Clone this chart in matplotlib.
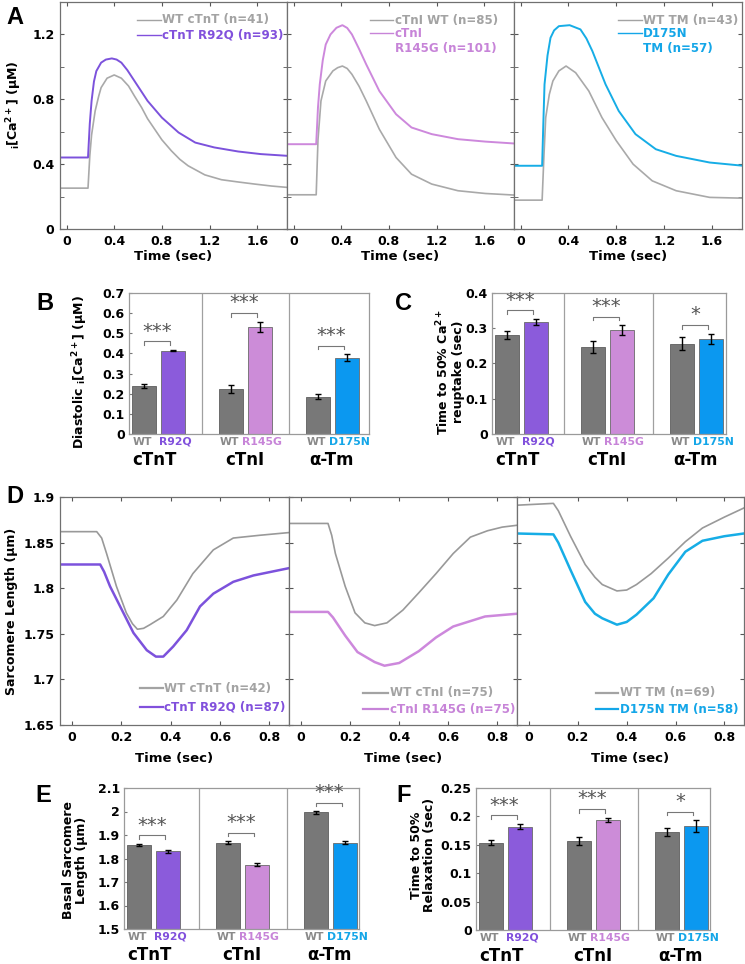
import matplotlib
matplotlib.use('Agg')
import matplotlib.pyplot as plt
from matplotlib.ticker import MultipleLocator, FormatStrFormatter

plt.rcParams['font.family'] = ['DejaVu Sans']
plt.rcParams['font.weight'] = 'bold'
plt.rcParams['axes.labelweight'] = 'bold'
plt.rcParams['mathtext.default'] = 'bf'

W, H = 745, 964

# ---------------- data ----------------
groups = ['cTnT', 'cTnI', 'α-Tm']
mut_names = ['R92Q', 'R145G', 'D175N']

# A: Ca2+ transients (time sec, [Ca2+] uM)
ca_tnt_wt_t = [-0.06, 0.18, 0.195, 0.21, 0.24, 0.27, 0.29, 0.34, 0.40, 0.46, 0.52, 0.57, 0.63, 0.68, 0.74, 0.80,
               0.88, 0.95, 1.02, 1.16, 1.30, 1.44, 1.58, 1.72, 1.86]
ca_tnt_wt = [0.252, 0.252, 0.45, 0.58, 0.728, 0.82, 0.872, 0.93, 0.95, 0.93, 0.882, 0.82, 0.749, 0.68, 0.615, 0.55,
             0.482, 0.43, 0.39, 0.334, 0.304, 0.29, 0.277, 0.265, 0.256]
ca_tnt_mut_t = [-0.06, 0.18, 0.195, 0.21, 0.23, 0.25, 0.29, 0.33, 0.38, 0.42, 0.46, 0.51, 0.57, 0.68, 0.80, 0.94,
                1.08, 1.24, 1.44, 1.63, 1.86]
ca_tnt_mut = [0.441, 0.441, 0.65, 0.79, 0.91, 0.974, 1.026, 1.045, 1.052, 1.045, 1.026, 0.98, 0.913, 0.79, 0.687,
              0.595, 0.533, 0.503, 0.478, 0.462, 0.451]

ca_tni_wt_t = [-0.06, 0.19, 0.205, 0.23, 0.27, 0.33, 0.37, 0.41, 0.45, 0.49, 0.55, 0.61, 0.72, 0.86, 0.99, 1.16,
               1.38, 1.61, 1.86]
ca_tni_wt = [0.211, 0.211, 0.55, 0.79, 0.913, 0.975, 0.995, 1.005, 0.99, 0.954, 0.88, 0.79, 0.615, 0.441, 0.338,
             0.277, 0.236, 0.219, 0.209]
ca_tni_mut_t = [-0.06, 0.19, 0.205, 0.22, 0.245, 0.27, 0.31, 0.36, 0.41, 0.45, 0.49, 0.55, 0.61, 0.72, 0.86, 0.99,
                1.16, 1.38, 1.61, 1.86]
ca_tni_mut = [0.523, 0.523, 0.75, 0.892, 1.04, 1.138, 1.2, 1.241, 1.257, 1.24, 1.2, 1.11, 1.015, 0.851, 0.708,
              0.626, 0.585, 0.554, 0.539, 0.527]

ca_tm_wt_t = [-0.06, 0.18, 0.195, 0.21, 0.24, 0.27, 0.32, 0.38, 0.46, 0.57, 0.68, 0.80, 0.94, 1.10, 1.30, 1.58,
              1.86]
ca_tm_wt = [0.178, 0.178, 0.45, 0.687, 0.83, 0.913, 0.975, 1.005, 0.964, 0.851, 0.687, 0.544, 0.40, 0.297, 0.236,
            0.195, 0.19]
ca_tm_mut_t = [-0.06, 0.18, 0.19, 0.20, 0.225, 0.25, 0.28, 0.32, 0.41, 0.50, 0.55, 0.60, 0.71, 0.82, 0.96, 1.13,
               1.30, 1.58, 1.86]
ca_tm_mut = [0.39, 0.39, 0.65, 0.892, 1.07, 1.179, 1.225, 1.251, 1.257, 1.231, 1.175, 1.097, 0.892, 0.728, 0.585,
             0.492, 0.451, 0.41, 0.39]

# D: sarcomere length (time sec, um)
sl_tnt_wt_t = [-0.05, 0.10, 0.12, 0.14, 0.18, 0.22, 0.245, 0.265, 0.29, 0.316, 0.37, 0.425, 0.49, 0.573, 0.654,
               0.76, 0.88]
sl_tnt_wt = [1.862, 1.862, 1.855, 1.838, 1.802, 1.773, 1.761, 1.755, 1.756, 1.760, 1.769, 1.787, 1.816, 1.842,
             1.855, 1.858, 1.861]
sl_tnt_mut_t = [-0.05, 0.114, 0.13, 0.154, 0.195, 0.249, 0.303, 0.34, 0.37, 0.41, 0.465, 0.519, 0.573, 0.654,
                0.736, 0.88]
sl_tnt_mut = [1.826, 1.826, 1.818, 1.802, 1.780, 1.751, 1.732, 1.725, 1.725, 1.736, 1.754, 1.780, 1.794, 1.807,
              1.814, 1.822]

sl_tni_wt_t = [-0.05, 0.11, 0.125, 0.14, 0.18, 0.22, 0.26, 0.30, 0.35, 0.415, 0.48, 0.55, 0.62, 0.69, 0.76, 0.82,
               0.88]
sl_tni_wt = [1.871, 1.871, 1.858, 1.838, 1.802, 1.773, 1.762, 1.759, 1.762, 1.776, 1.795, 1.816, 1.838, 1.856,
             1.863, 1.867, 1.869]
sl_tni_mut_t = [-0.05, 0.11, 0.13, 0.18, 0.23, 0.30, 0.34, 0.40, 0.48, 0.55, 0.62, 0.75, 0.88]
sl_tni_mut = [1.774, 1.774, 1.768, 1.748, 1.730, 1.719, 1.715, 1.718, 1.731, 1.746, 1.758, 1.769, 1.772]

sl_tm_wt_t = [-0.05, 0.10, 0.12, 0.17, 0.23, 0.27, 0.30, 0.36, 0.40, 0.44, 0.50, 0.57, 0.64, 0.71, 0.80, 0.88]
sl_tm_wt = [1.891, 1.893, 1.885, 1.857, 1.826, 1.812, 1.804, 1.797, 1.798, 1.804, 1.816, 1.833, 1.851, 1.866,
            1.878, 1.888]
sl_tm_mut_t = [-0.05, 0.10, 0.12, 0.17, 0.23, 0.27, 0.30, 0.36, 0.40, 0.44, 0.51, 0.57, 0.64, 0.71, 0.80, 0.88]
sl_tm_mut = [1.860, 1.859, 1.850, 1.820, 1.785, 1.772, 1.767, 1.760, 1.763, 1.771, 1.789, 1.815, 1.840, 1.852,
             1.857, 1.860]

# bar panels: WT / mutant means and SEM, per group (cTnT, cTnI, a-Tm)
diast_wt = [0.238, 0.224, 0.185]
diast_wt_err = [0.009, 0.020, 0.012]
diast_mut = [0.414, 0.533, 0.379]
diast_mut_err = [0.004, 0.025, 0.018]
diast_sig = ['***', '***', '***']

reup_wt = [0.281, 0.246, 0.256]
reup_wt_err = [0.011, 0.017, 0.018]
reup_mut = [0.318, 0.294, 0.270]
reup_mut_err = [0.009, 0.014, 0.015]
reup_sig = ['***', '***', '*']

basal_wt = [1.858, 1.867, 1.996]
basal_wt_err = [0.005, 0.006, 0.005]
basal_mut = [1.830, 1.773, 1.867]
basal_mut_err = [0.007, 0.006, 0.007]
basal_sig = ['***', '***', '***']

relax_wt = [0.154, 0.157, 0.173]
relax_wt_err = [0.004, 0.007, 0.007]
relax_mut = [0.182, 0.194, 0.183]
relax_mut_err = [0.005, 0.004, 0.010]
relax_sig = ['***', '***', '*']

# ---------------- styles ----------------
GRAY_LINE_A = '#a9a9a9'
GRAY_LINE_D = '#999999'
GRAY_TXT = '#a3a3a3'
line_cols = ['#7c52dc', '#cd88dc', '#16ade6']
bar_cols = ['#8b5bdb', '#cc8cd8', '#0b98f0']
txt_cols = ['#8150dc', '#c784d8', '#14a6e8']
WT_BAR = '#787878'

fig = plt.figure(figsize=(W / 100, H / 100), dpi=100)


def px_axes(l, t, r, b):
    return fig.add_axes([l / W, 1 - b / H, (r - l) / W, (b - t) / H])


def fig_text(x, y, s, **kw):
    fig.text(x / W, 1 - y / H, s, **kw)


def style_trace_ax(ax, left_labels):
    ax.tick_params(direction='in', top=True, right=True, length=3, labelsize=9, pad=4, colors='#555555',
                   labelcolor='black')
    for sp in ax.spines.values():
        sp.set_color('#707070')
        sp.set_linewidth(0.9)
    if not left_labels:
        ax.tick_params(labelleft=False)


def legend_rows(ax, x0, x1, rows, lw):
    for y, s, col, has_line in rows:
        if has_line:
            ax.plot([x0, x1], [y, y], color=col, lw=lw, transform=ax.transAxes, clip_on=False)
        ax.text(x1 + 0.005, y, s, color=col, fontsize=8.6, va='center', ha='left', transform=ax.transAxes)


# ---------------- A ----------------
a_boxes = [(60, 2, 287, 229), (287, 2, 514, 229), (514, 2, 742, 229)]
a_curves = [(ca_tnt_wt_t, ca_tnt_wt, ca_tnt_mut_t, ca_tnt_mut),
            (ca_tni_wt_t, ca_tni_wt, ca_tni_mut_t, ca_tni_mut),
            (ca_tm_wt_t, ca_tm_wt, ca_tm_mut_t, ca_tm_mut)]
a_legends = [
    (0.338, 0.446, [(0.921, 'WT cTnT (n=41)', GRAY_TXT, True), (0.853, 'cTnT R92Q (n=93)', txt_cols[0], True)]),
    (0.366, 0.469, [(0.919, 'cTnI WT (n=85)', GRAY_TXT, True), (0.863, 'cTnI', txt_cols[1], True),
                    (0.795, 'R145G (n=101)', txt_cols[1], False)]),
    (0.457, 0.560, [(0.919, 'WT TM (n=43)', GRAY_TXT, True), (0.863, 'D175N', txt_cols[2], True),
                    (0.795, 'TM (n=57)', txt_cols[2], False)]),
]
for i, box in enumerate(a_boxes):
    ax = px_axes(*box)
    wt_t, wt, mt_t, mt = a_curves[i]
    ax.plot(wt_t, wt, color=GRAY_LINE_A, lw=1.2)
    ax.plot(mt_t, mt, color=line_cols[i], lw=1.4)
    ax.set_xlim(-0.055, 1.85)
    ax.set_ylim(0, 1.4)
    ax.xaxis.set_major_locator(MultipleLocator(0.4))
    ax.yaxis.set_major_locator(MultipleLocator(0.4))
    ax.yaxis.set_minor_locator(MultipleLocator(0.2))
    ax.xaxis.set_major_formatter(FormatStrFormatter('%g'))
    ax.yaxis.set_major_formatter(FormatStrFormatter('%g'))
    style_trace_ax(ax, i == 0)
    ax.tick_params(which='minor', direction='in', right=True, length=3, colors='#555555')
    ax.set_xlabel('Time (sec)', fontsize=9.5, labelpad=2)
    x0, x1, rows = a_legends[i]
    legend_rows(ax, x0, x1, rows, 1.0)
fig_text(14, 105, r'${}_i$[Ca$^{2+}$] (μM)', rotation=90, fontsize=9, ha='center', va='center')
fig_text(15, 18, 'A', fontsize=17, fontfamily='Liberation Sans', ha='center', va='center')

# ---------------- D ----------------
d_boxes = [(60, 497, 289, 725), (289, 497, 517, 725), (517, 497, 744, 725)]
d_curves = [(sl_tnt_wt_t, sl_tnt_wt, sl_tnt_mut_t, sl_tnt_mut),
            (sl_tni_wt_t, sl_tni_wt, sl_tni_mut_t, sl_tni_mut),
            (sl_tm_wt_t, sl_tm_wt, sl_tm_mut_t, sl_tm_mut)]
d_legends = [
    (0.349, 0.451, [(0.161, 'WT cTnT (n=42)', GRAY_TXT, True), (0.080, 'cTnT R92Q (n=87)', txt_cols[0], True)]),
    (0.326, 0.436, [(0.142, 'WT cTnI (n=75)', GRAY_TXT, True), (0.069, 'cTnI R145G (n=75)', txt_cols[1], True)]),
    (0.348, 0.447, [(0.142, 'WT TM (n=69)', GRAY_TXT, True), (0.069, 'D175N TM (n=58)', txt_cols[2], True)]),
]
for i, box in enumerate(d_boxes):
    ax = px_axes(*box)
    wt_t, wt, mt_t, mt = d_curves[i]
    ax.plot(wt_t, wt, color=GRAY_LINE_D, lw=1.2)
    ax.plot(mt_t, mt, color=line_cols[i], lw=1.8)
    ax.set_xlim(-0.049, 0.88)
    ax.set_ylim(1.65, 1.9)
    ax.xaxis.set_major_locator(MultipleLocator(0.2))
    ax.yaxis.set_major_locator(MultipleLocator(0.05))
    ax.xaxis.set_major_formatter(FormatStrFormatter('%g'))
    ax.yaxis.set_major_formatter(FormatStrFormatter('%g'))
    style_trace_ax(ax, i == 0)
    ax.set_xlabel('Time (sec)', fontsize=9.5, labelpad=6)
    x0, x1, rows = d_legends[i]
    legend_rows(ax, x0, x1, rows, 1.6)
fig_text(12, 611, 'Sarcomere Length (μm)', rotation=90, fontsize=9, ha='center', va='center')
fig_text(15, 497, 'D', fontsize=17, fontfamily='Liberation Sans', ha='center', va='center')


# ---------------- bar panels ----------------
def bar_panel(box, edges, wt, wt_err, mut, mut_err, sig, ylim, step, ylabel, ylab_xy, letter_xy, letter):
    l, t, r, b = box
    ax = px_axes(*box)
    rng = ylim[1] - ylim[0]
    wt_x = [edges[0] + 15] + [e + 29 for e in edges[1:3]]
    mut_x = [x + 29 for x in wt_x]
    ax.bar(wt_x, [v - ylim[0] for v in wt], bottom=ylim[0], width=24, color=WT_BAR, edgecolor='#5e5e5e',
           linewidth=0.6, zorder=2)
    ax.bar(mut_x, [v - ylim[0] for v in mut], bottom=ylim[0], width=24, color=bar_cols, edgecolor='#6a6a6a',
           linewidth=0.6, zorder=2)
    ax.errorbar(wt_x, wt, yerr=wt_err, fmt='none', ecolor='black', elinewidth=1, capsize=2, capthick=1, zorder=3)
    ax.errorbar(mut_x, mut, yerr=mut_err, fmt='none', ecolor='black', elinewidth=1, capsize=2, capthick=1,
                zorder=3)
    for e in edges[1:3]:
        ax.axvline(e, color='#a0a0a0', lw=0.9)
    for g in range(3):
        top = max(wt[g] + wt_err[g], mut[g] + mut_err[g]) + 0.06 * rng
        x0, x1 = wt_x[g], mut_x[g] - 3
        ax.plot([x0, x0, x1, x1], [top - 0.025 * rng, top, top, top - 0.025 * rng], color='#777777', lw=0.8,
                clip_on=False)
        ax.text((x0 + x1) / 2, top + 0.005 * rng, sig[g], fontsize=14, fontweight='normal', color='#555555',
                ha='center', va='bottom', clip_on=False)
    ax.set_xlim(edges[0], edges[3])
    ax.set_ylim(*ylim)
    ax.yaxis.set_major_locator(MultipleLocator(step))
    ax.yaxis.set_major_formatter(FormatStrFormatter('%g'))
    ticks = []
    labels = []
    for g in range(3):
        ticks += [wt_x[g] - 2, mut_x[g] + 2]
        labels += ['WT', mut_names[g]]
    ax.set_xticks(ticks, labels)
    for j, tl in enumerate(ax.get_xticklabels()):
        tl.set_color('#8a8a8a' if j % 2 == 0 else txt_cols[j // 2])
        tl.set_fontsize(7.8)
    ax.tick_params(axis='x', length=0, pad=2)
    ax.tick_params(axis='y', direction='in', length=2.5, labelsize=9, pad=3, colors='#777777',
                   labelcolor='black')
    for sp in ax.spines.values():
        sp.set_color('#9a9a9a')
        sp.set_linewidth(0.9)
    for g in range(3):
        gx = (wt_x[g] + mut_x[g]) / 2 - (4 if g == 0 else 1)
        fig_text(gx, b + 31, groups[g], fontsize=12, ha='center', va='baseline', color='black')
    fig_text(ylab_xy[0], ylab_xy[1], ylabel, rotation=90, fontsize=9, ha='center', va='center',
             multialignment='center', linespacing=1.1)
    fig_text(letter_xy[0], letter_xy[1], letter, fontsize=17, fontfamily='Liberation Sans', ha='center',
             va='center')


bar_panel((129, 293, 369, 434), [129, 202, 289, 369], diast_wt, diast_wt_err, diast_mut, diast_mut_err,
          diast_sig, (0, 0.7), 0.1, r'Diastolic ${}_i$[Ca$^{2+}$] (μM)', (80, 372), (45, 303), 'B')
bar_panel((492, 293, 726, 434), [492, 564, 653, 726], reup_wt, reup_wt_err, reup_mut, reup_mut_err,
          reup_sig, (0, 0.4), 0.1, 'Time to 50% Ca$^{2+}$\nreuptake (sec)', (450, 372), (404, 303), 'C')
bar_panel((124, 788, 359, 929), [124, 199, 287, 359], basal_wt, basal_wt_err, basal_mut, basal_mut_err,
          basal_sig, (1.5, 2.1), 0.1, 'Basal Sarcomere\nLength (μm)', (75, 860), (43, 795), 'E')
bar_panel((476, 788, 710, 930), [476, 550, 638, 710], relax_wt, relax_wt_err, relax_mut, relax_mut_err,
          relax_sig, (0, 0.25), 0.05, 'Time to 50%\nRelaxation (sec)', (423, 855), (404, 795), 'F')

fig.savefig('out.png', dpi=100)
